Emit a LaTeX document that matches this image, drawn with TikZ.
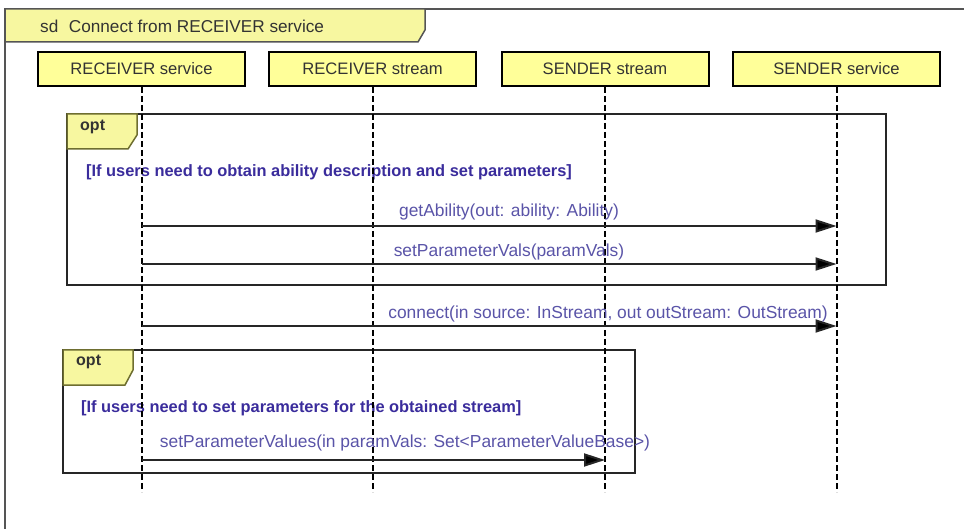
\documentclass[tikz,border=0pt]{standalone}
\usepackage{fontspec}
\setmainfont{Liberation Sans}
\usetikzlibrary{arrows.meta}
\definecolor{headyellow}{HTML}{FFFF99}
\definecolor{tabyellow}{HTML}{F7F7A0}
\definecolor{tabborder}{HTML}{6E6E30}
\definecolor{framegray}{HTML}{555555}
\definecolor{guardblue}{HTML}{3A2C9C}
\definecolor{msgblue}{HTML}{5A54A8}
\definecolor{txtdark}{HTML}{333333}
\tikzset{
  headbox/.style={draw=black, line width=2pt, fill=headyellow, minimum width=207pt, minimum height=34pt, inner sep=0pt, text=txtdark, font=\fontsize{16.6}{18}\selectfont},
  lifeline/.style={line width=2pt, dash pattern=on 6pt off 3pt, black},
  msgline/.style={line width=2pt, draw=black!85, -{Triangle[length=21pt, width=13pt, fill=black]}},
  msglabel/.style={text=msgblue, font=\fontsize{17.4}{19}\selectfont, inner sep=0pt},
  guardlabel/.style={text=guardblue, font=\bfseries\fontsize{16.4}{18}\selectfont, inner sep=0pt, anchor=west},
  optframe/.style={draw=black!85, line width=2pt},
  opttab/.style={draw=tabborder, line width=1.5pt, fill=tabyellow},
  tablabel/.style={text=txtdark, font=\bfseries\fontsize{16}{18}\selectfont, inner sep=0pt, anchor=west}
}
\begin{document}
\begin{tikzpicture}[x=1pt,y=-1pt]
\useasboundingbox (0,0) rectangle (964,529);
\fill[white] (0,0) rectangle (964,529);
% outer frame
\draw[framegray, line width=2pt] (5,540) -- (5,9) -- (970,9);
\draw[opttab, draw=framegray] (5,9) -- (425,9) -- (425,30) -- (418,42) -- (5,42) -- cycle;
\node[tablabel, font=\fontsize{17.2}{19}\selectfont] (title) at (40,26) {sd\,\, Connect from RECEIVER service};

% lifeline heads
\node[headbox] (rsvc) at (141.5,69) {RECEIVER service};
\node[headbox] (rstr) at (372.5,69) {RECEIVER stream};
\node[headbox] (sstr) at (605,69) {SENDER stream};
\node[headbox] (ssvc) at (836.5,69) {SENDER service};

\coordinate (rsvcEnd) at (141.5,492);
\coordinate (rstrEnd) at (372.5,492);
\coordinate (sstrEnd) at (605,492);
\coordinate (ssvcEnd) at (836.5,492);

% opt frame 1
\draw[optframe] (67,114) rectangle (886,285);
\draw[opttab] (67,114) -- (137,114) -- (137,135) -- (128,149) -- (67,149) -- cycle;
\node[tablabel] (opt1) at (80,127) {opt};
\node[guardlabel] (g1) at (86,172) {[If users need to obtain ability description and set parameters]};

% opt frame 2
\draw[optframe] (63,350) rectangle (635,473);
\draw[opttab] (63,350) -- (133,350) -- (133,370) -- (125,385) -- (63,385) -- cycle;
\node[tablabel] (opt2) at (76,362) {opt};
\node[guardlabel] (g2) at (81,408) {[If users need to set parameters for the obtained stream]};

% lifelines
\draw[lifeline] (rsvc.south) -- (rsvcEnd);
\draw[lifeline] (rstr.south) -- (rstrEnd);
\draw[lifeline] (sstr.south) -- (sstrEnd);
\draw[lifeline] (ssvc.south) -- (ssvcEnd);

% messages
\coordinate (m1a) at (141.5,226); \coordinate (m1b) at (836.5,226);
\coordinate (m2a) at (141.5,264); \coordinate (m2b) at (836.5,264);
\coordinate (m3a) at (141.5,326); \coordinate (m3b) at (836.5,326);
\coordinate (m4a) at (141.5,460); \coordinate (m4b) at (605,460);

\draw[msgline] (m1a) -- (m1b);
\draw[msgline] (m2a) -- (m2b);
\draw[msgline] (m3a) -- (m3b);
\draw[msgline] (m4a) -- (m4b);

\node[msglabel] (l1) at (509,212) {getAbility(out: ability: Ability)};
\node[msglabel] (l2) at (509,252) {setParameterVals(paramVals)};
\node[msglabel] (l3) at (608,314) {connect(in source: InStream, out outStream: OutStream)};
\node[msglabel] (l4) at (405,443) {setParameterValues(in paramVals: Set<ParameterValueBase>)};
\end{tikzpicture}
\end{document}
